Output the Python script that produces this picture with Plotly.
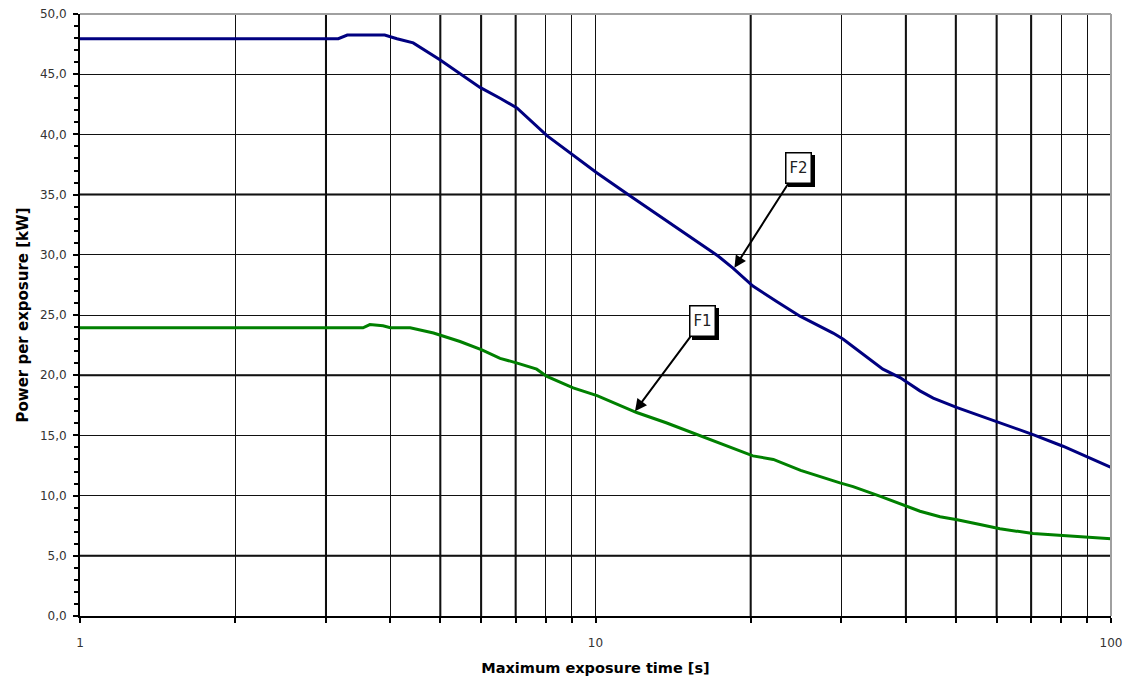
import math
import plotly.graph_objects as go

# ---------------- data ----------------
f2_time = [1, 3.17, 3.3, 3.9, 4.12, 4.43, 4.99, 5.97, 6.53, 7.04, 8.05, 9.04, 10.07,
           11.66, 13.34, 15.25, 17.29, 18.48, 20.2, 22.5, 24.93, 28.9, 30.2, 36.1,
           38.97, 42.6, 45.2, 50.3, 60.9, 70.6, 80.7, 91.0, 100]
f2_power = [47.95, 47.95, 48.25, 48.25, 47.95, 47.6, 46.2, 43.9, 43.0, 42.2, 39.9, 38.3, 36.8,
            34.9, 33.2, 31.5, 29.9, 28.9, 27.4, 26.1, 24.9, 23.5, 23.0, 20.5,
            19.8, 18.7, 18.1, 17.3, 16.05, 15.07, 14.1, 13.1, 12.35]

f1_time = [1, 3.54, 3.65, 3.87, 4.0, 4.37, 4.85, 5.46, 6.02, 6.53, 7.05, 7.69, 8.05,
           9.05, 10.07, 12.02, 13.71, 15.72, 20.2, 22.13, 25.0, 29.8, 31.6, 35.6, 40.2,
           42.6, 46.6, 50.3, 55.7, 60.9, 70.6, 75.0, 80.7, 87.1, 100]
f1_power = [23.94, 23.94, 24.2, 24.1, 23.94, 23.94, 23.5, 22.8, 22.1, 21.4, 21.0, 20.5, 19.9,
            18.95, 18.3, 16.9, 16.05, 15.07, 13.3, 13.0, 12.1, 11.06, 10.75, 9.95, 9.12,
            8.7, 8.24, 8.0, 7.6, 7.24, 6.85, 6.77, 6.71, 6.63, 6.41]

x_tick_values = [1, 2, 3, 4, 5, 6, 7, 8, 9, 10, 20, 30, 40, 50, 60, 70, 80, 90, 100]
x_tick_labels = ["1", "", "", "", "", "", "", "", "", "10", "", "", "", "", "", "", "", "", "100"]
x_thick_grid = [3, 5, 6, 7, 20, 40, 50, 60, 70]
y_thick_grid = [5, 20, 35]

# annotation tips (data coordinates)
f2_tip = (18.6, 28.92)
f1_tip = (11.93, 17.01)

# ---------------- figure ----------------
FONT = "DejaVu Sans"
fig = go.Figure()

fig.add_trace(go.Scatter(x=f2_time, y=f2_power, mode="lines", name="F2",
                         line=dict(color="#000080", width=3), hoverinfo="skip"))
fig.add_trace(go.Scatter(x=f1_time, y=f1_power, mode="lines", name="F1",
                         line=dict(color="#008000", width=3), hoverinfo="skip"))

shapes = []
for v in x_thick_grid:
    shapes.append(dict(type="line", xref="x", yref="paper", x0=v, x1=v,
                       y0=0, y1=1, line=dict(color="black", width=2), layer="below"))
for v in y_thick_grid:
    shapes.append(dict(type="line", xref="paper", yref="y", x0=0, x1=1, y0=v, y1=v,
                       line=dict(color="black", width=2), layer="below"))
# grey top and right frame
shapes.append(dict(type="line", xref="paper", yref="paper", x0=0, x1=1, y0=1, y1=1,
                   line=dict(color="#a0a0a0", width=2)))
shapes.append(dict(type="line", xref="paper", yref="paper", x0=1, x1=1, y0=0, y1=1,
                   line=dict(color="#a0a0a0", width=2)))

annotations = []
for label, tip, ax, ay in [("F2", f2_tip, 64, -100), ("F1", f1_tip, 67, -90)]:
    common = dict(x=math.log10(tip[0]), y=tip[1], xref="x", yref="y", ax=ax, ay=ay,
                  font=dict(family=FONT, size=15, color="#222222"),
                  width=20, height=25, borderpad=2, borderwidth=1.5)
    # drop shadow box (no text)
    annotations.append(dict(common, text=" ", showarrow=True, arrowcolor="rgba(0,0,0,0)",
                            bgcolor="black", bordercolor="black", xshift=3, yshift=-3))
    annotations.append(dict(common, text=label, showarrow=True, arrowhead=2, arrowsize=1.2,
                            arrowwidth=2, arrowcolor="black",
                            bgcolor="white", bordercolor="black"))

fig.update_layout(
    width=1136, height=682,
    margin=dict(l=80, r=25, t=14, b=66, autoexpand=False),
    plot_bgcolor="white", paper_bgcolor="white",
    separators=",.",
    showlegend=False,
    font=dict(family=FONT, color="#333333"),
    shapes=shapes,
    annotations=annotations,
)

fig.update_xaxes(
    type="log", range=[0, 2],
    tickmode="array", tickvals=x_tick_values, ticktext=x_tick_labels,
    showgrid=True, gridcolor="#111111", gridwidth=1,
    ticks="outside", ticklen=5, tickwidth=2, tickcolor="black",
    showline=True, linecolor="black", linewidth=2,
    zeroline=False,
    tickfont=dict(family=FONT, size=12, color="#333333"),
    ticklabelstandoff=10,
    title=dict(text="<b>Maximum exposure time [s]</b>",
               font=dict(family=FONT, size=14.5, color="black"), standoff=13),
)

fig.update_yaxes(
    range=[0, 50], dtick=5, tick0=0, tickformat=".1f",
    showgrid=True, gridcolor="#111111", gridwidth=1,
    ticks="outside", ticklen=5, tickwidth=2, tickcolor="black",
    minor=dict(dtick=1, ticks="outside", ticklen=4, tickwidth=2, tickcolor="black", showgrid=False),
    showline=True, linecolor="black", linewidth=2,
    zeroline=False,
    tickfont=dict(family=FONT, size=12, color="#333333"),
    ticklabelstandoff=4,
    title=dict(text="<b>Power per exposure [kW]</b>",
               font=dict(family=FONT, size=15, color="black"), standoff=8),
)

fig.write_html("out.html", config={"displayModeBar": False},
               post_script="document.body.style.margin='0';")
